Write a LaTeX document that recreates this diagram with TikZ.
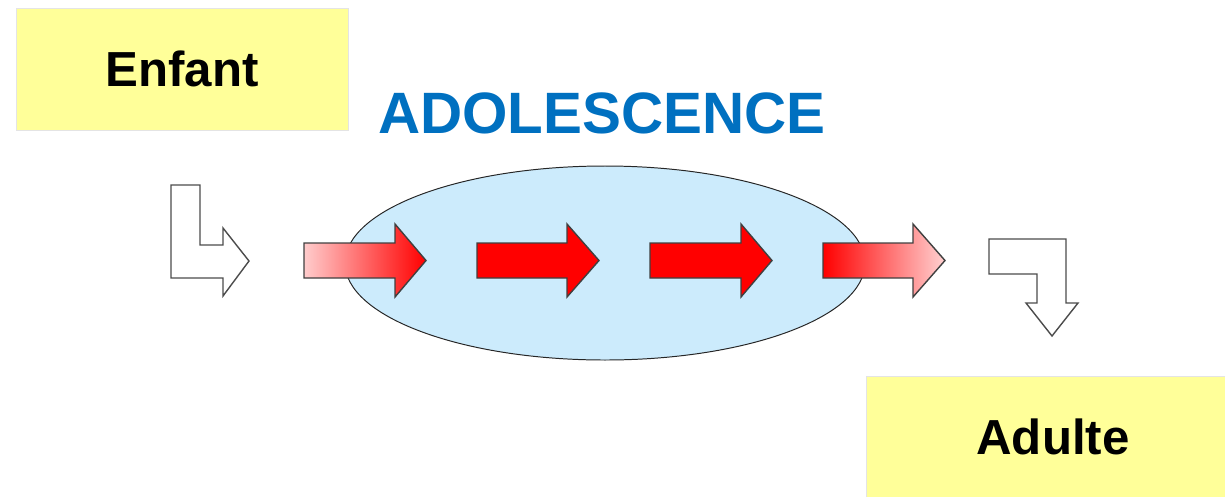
\documentclass[tikz,border=0pt]{standalone}
\usepackage{fontspec}
\setmainfont{Liberation Sans}
\usepackage{tikz}
\usetikzlibrary{positioning}
\usepackage{xcolor}

\definecolor{boxyellow}{HTML}{FFFF99}
\definecolor{boxedge}{HTML}{E4E4E4}
\definecolor{adoblue}{HTML}{0070C0}
\definecolor{ovalblue}{HTML}{CCEBFC}

% block arrow: start, neck, tip (pixel units)
\newcommand{\fatarrow}[4][]{%
  \draw[arrowedge, #1] (#2,243) -- (#3,243) -- (#3,224) -- (#4,260.5)
    -- (#3,297) -- (#3,278) -- (#2,278) -- cycle;}

\begin{document}
\begin{tikzpicture}[x=0.025cm, y=-0.025cm,
    agebox/.style={fill=boxyellow, draw=boxedge, line width=0.6pt,
      minimum height=3.05cm, font=\bfseries\fontsize{35}{40}\selectfont},
    arrowedge/.style={draw=black!75, line width=1pt, line join=miter},
    bentarrow/.style={draw=black!70, fill=white, line width=1pt}]
    \useasboundingbox (0,0) rectangle (1225,496);

    % stages
    \node[agebox, minimum width=8.3cm] (enfant) at (182,69) {Enfant};
    \node[agebox, minimum width=9.35cm] (adulte) at (1053,437) {Adulte};
    \node[text=adoblue, font=\bfseries\fontsize{41.5}{46}\selectfont]
        (ado) at (602,113) {ADOLESCENCE};

    % the passage
    \draw[black!85, line width=0.7pt, fill=ovalblue] (605,263) ellipse (260 and 97);

    % in and out
    \draw[bentarrow] (171,185) -- (200,185) -- (200,245) -- (223,245) -- (223,228)
        -- (249,261) -- (223,296) -- (223,278) -- (171,278) -- cycle;
    \draw[bentarrow] (989,239) -- (1066,239) -- (1066,303) -- (1078,303)
        -- (1052,336) -- (1026,303) -- (1037,303) -- (1037,274) -- (989,274) -- cycle;

    \fatarrow[left color=red!20, middle color=red!35, right color=red]{304}{395}{426}
    \foreach \s/\n/\t in {477/567/599, 650/741/772}
        \fatarrow[fill=red]{\s}{\n}{\t};
    \fatarrow[left color=red, middle color=red!30, right color=red!18]{823}{913}{945}
\end{tikzpicture}
\end{document}
